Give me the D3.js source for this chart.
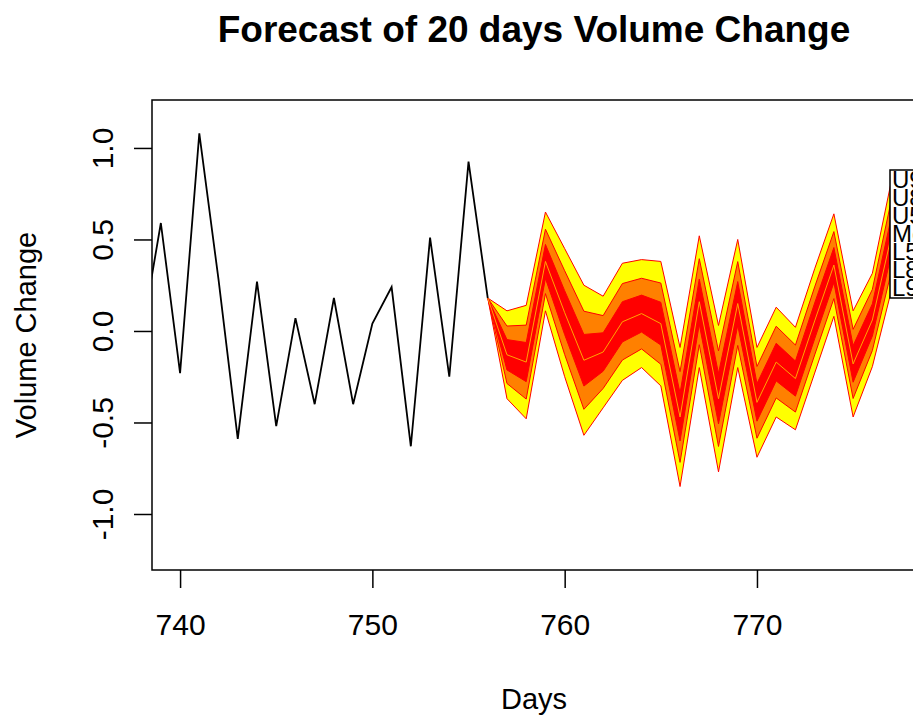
<!DOCTYPE html>
<html>
<head>
<meta charset="utf-8">
<script src="https://cdn.jsdelivr.net/npm/d3@7"></script>
<style>
  body { margin: 0; background: #fff; }
  svg { display: block; font-family: "Liberation Sans", Arial, sans-serif; }
</style>
</head>
<body>
<div id="chart"></div>
<script>
// observed series
const histDays = [738, 739, 740, 741, 742, 743, 744, 745, 746, 747, 748, 749, 750, 751, 752, 753, 754, 755, 756];
const histVals = [-0.03, 0.59, -0.23, 1.08, 0.28, -0.59, 0.27, -0.52, 0.07, -0.40, 0.18, -0.40, 0.04, 0.24, -0.63, 0.51, -0.25, 0.925, 0.18];

// forecast fan
const fcDays = [756, 757, 758, 759, 760, 761, 762, 763, 764, 765, 766, 767, 768, 769, 770, 771, 772, 773, 774, 775, 776, 777];
const fcMean = [0.18, -0.13, -0.17, 0.38, 0.10, -0.16, -0.115, 0.05, 0.095, 0.04, -0.47, 0.16, -0.37, 0.15, -0.39, -0.17, -0.26, 0.055, 0.36, -0.18, 0.06, 0.525];
const up95 = [0.18, 0.11, 0.14, 0.65, 0.45, 0.25, 0.19, 0.37, 0.39, 0.38, -0.09, 0.52, 0.03, 0.50, -0.09, 0.13, 0.02, 0.34, 0.64, 0.11, 0.315, 0.825];
const up80 = [0.18, 0.027, 0.032, 0.556, 0.329, 0.108, 0.084, 0.259, 0.288, 0.262, -0.222, 0.395, -0.109, 0.379, -0.194, 0.026, -0.077, 0.241, 0.543, 0.009, 0.227, 0.721];
const up50 = [0.18, -0.047, -0.063, 0.473, 0.22, -0.019, -0.01, 0.16, 0.196, 0.157, -0.339, 0.284, -0.232, 0.27, -0.287, -0.067, -0.164, 0.153, 0.456, -0.08, 0.148, 0.628];
const lo50 = [0.18, -0.213, -0.277, 0.287, -0.02, -0.301, -0.22, -0.06, -0.006, -0.077, -0.601, 0.036, -0.508, 0.03, -0.493, -0.273, -0.356, -0.043, 0.264, -0.28, -0.028, 0.422];
const lo80 = [0.18, -0.287, -0.372, 0.204, -0.129, -0.428, -0.314, -0.159, -0.098, -0.182, -0.718, -0.075, -0.631, -0.079, -0.586, -0.366, -0.443, -0.131, 0.177, -0.369, -0.107, 0.329];
const lo95 = [0.18, -0.37, -0.48, 0.11, -0.25, -0.57, -0.42, -0.27, -0.20, -0.30, -0.85, -0.20, -0.77, -0.20, -0.69, -0.47, -0.54, -0.23, 0.08, -0.47, -0.195, 0.225];

const xTicks = [740, 750, 760, 770];
const yTicks = [-1.0, -0.5, 0.0, 0.5, 1.0];
const legendLabels = ["U95", "U80", "U50", "Mean", "L50", "L80", "L95"];

const width = 913, height = 716;
const plot = {left: 152, right: 916, top: 100, bottom: 570};

const svg = d3.select("#chart")
  .append("svg")
  .attr("width", width)
  .attr("height", height);

const xScale = d3.scaleLinear()
  .domain([738.54, 778.27])
  .range([plot.left, plot.right]);

const yScale = d3.scaleLinear()
  .domain([-1.306, 1.262])
  .range([plot.bottom, plot.top]);

svg.append("clipPath")
  .attr("id", "plot-clip")
  .append("rect")
    .attr("x", plot.left)
    .attr("y", plot.top)
    .attr("width", plot.right - plot.left)
    .attr("height", plot.bottom - plot.top);

const g = svg.append("g").attr("clip-path", "url(#plot-clip)");

// bands, outer first
const bands = [
  {hi: up95, lo: lo95, fill: "#FFFF00"},
  {hi: up80, lo: lo80, fill: "#FF8000"},
  {hi: up50, lo: lo50, fill: "#FF0000"}
];

bands.forEach(function(b) {
  const area = d3.area()
    .x(function(d, i) { return xScale(fcDays[i]); })
    .y0(function(d, i) { return yScale(b.lo[i]); })
    .y1(function(d, i) { return yScale(b.hi[i]); });
  g.append("path")
    .datum(fcDays)
    .attr("d", area)
    .attr("fill", b.fill)
    .attr("stroke", "#FF0000")
    .attr("stroke-width", 1);
});

const meanLine = d3.line()
  .x(function(d, i) { return xScale(fcDays[i]); })
  .y(function(d) { return yScale(d); });

g.append("path")
  .datum(fcMean)
  .attr("d", meanLine)
  .attr("fill", "none")
  .attr("stroke", "#FFA500")
  .attr("stroke-width", 1);

const histLine = d3.line()
  .x(function(d, i) { return xScale(histDays[i]); })
  .y(function(d) { return yScale(d); });

g.append("path")
  .datum(histVals)
  .attr("d", histLine)
  .attr("fill", "none")
  .attr("stroke", "#000")
  .attr("stroke-width", 1.8);

// axes
const xAxis = svg.append("g")
  .attr("transform", `translate(0, ${plot.bottom})`)
  .call(d3.axisBottom(xScale).tickValues(xTicks).tickSize(18).tickPadding(26).tickFormat(d3.format("d")));

const yAxis = svg.append("g")
  .attr("transform", `translate(${plot.left}, 0)`)
  .call(d3.axisLeft(yScale).tickValues(yTicks).tickSize(18)
    .tickFormat(function(d) { return d.toFixed(1); }));

[xAxis, yAxis].forEach(function(a) {
  a.select(".domain").remove();
  a.selectAll(".tick line").attr("stroke", "#000").attr("stroke-width", 1.5);
  a.selectAll(".tick text")
    .attr("font-size", 30)
    .attr("font-family", "Liberation Sans, Arial, sans-serif")
    .attr("fill", "#000");
});

yAxis.selectAll(".tick text")
  .attr("x", null).attr("dy", null)
  .attr("text-anchor", "middle")
  .attr("transform", "translate(-39, 0) rotate(-90)");

// plot frame
svg.append("rect")
  .attr("x", plot.left)
  .attr("y", plot.top)
  .attr("width", plot.right - plot.left)
  .attr("height", plot.bottom - plot.top)
  .attr("fill", "none")
  .attr("stroke", "#000")
  .attr("stroke-width", 1.5);

// legend, mostly outside the window
const legend = svg.append("g").attr("transform", "translate(890, 170)");
legend.append("rect")
  .attr("width", 70)
  .attr("height", 128)
  .attr("fill", "#fff")
  .attr("stroke", "#000")
  .attr("stroke-width", 1.5);
legend.selectAll("text")
  .data(legendLabels)
  .enter()
  .append("text")
    .attr("x", 2)
    .attr("y", function(d, i) { return 18 + i * 18; })
    .attr("font-size", 24)
    .attr("fill", "#000")
    .text(function(d) { return d; });

// titles
svg.append("text")
  .attr("x", (plot.left + plot.right) / 2)
  .attr("y", 42)
  .attr("text-anchor", "middle")
  .attr("font-size", 37)
  .attr("font-weight", "bold")
  .text("Forecast of 20 days Volume Change");

svg.append("text")
  .attr("x", (plot.left + plot.right) / 2)
  .attr("y", 709)
  .attr("text-anchor", "middle")
  .attr("font-size", 29)
  .text("Days");

svg.append("text")
  .attr("transform", `translate(36, ${(plot.top + plot.bottom) / 2}) rotate(-90)`)
  .attr("text-anchor", "middle")
  .attr("font-size", 29)
  .text("Volume Change");
</script>
</body>
</html>
